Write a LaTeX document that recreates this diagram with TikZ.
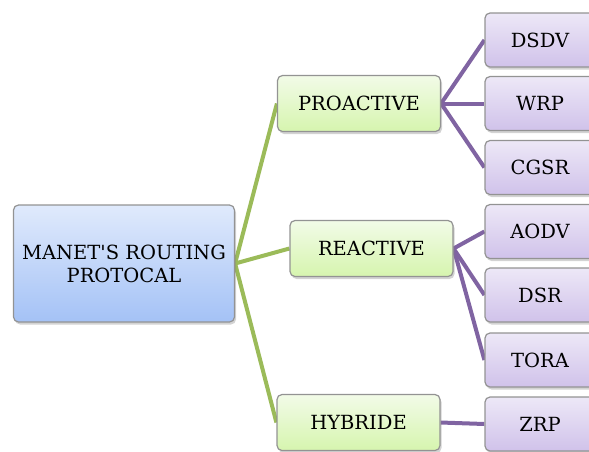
\documentclass[tikz,border=0pt]{standalone}
\usepackage{fontspec}
\setmainfont{DejaVu Serif}
\usetikzlibrary{shadows,backgrounds}

\definecolor{rootTop}{RGB}{224,234,252}
\definecolor{rootBot}{RGB}{164,194,246}
\definecolor{midTop}{RGB}{242,251,232}
\definecolor{midBot}{RGB}{214,245,174}
\definecolor{leafTop}{RGB}{237,232,247}
\definecolor{leafBot}{RGB}{208,194,234}
\definecolor{greenLine}{RGB}{155,187,89}
\definecolor{purpleLine}{RGB}{128,100,162}

\tikzset{
  box/.style={draw=gray!85, line width=1.2pt, rounded corners=5pt, inner sep=0pt,
    align=center, drop shadow={opacity=0.35, shadow xshift=1.5pt, shadow yshift=-2.5pt}},
  rootbox/.style={box, top color=rootTop, bottom color=rootBot,
    minimum width=221pt, minimum height=117pt},
  midbox/.style={box, top color=midTop, bottom color=midBot,
    minimum width=163pt, minimum height=56pt},
  leafbox/.style={box, top color=leafTop, bottom color=leafBot,
    minimum width=110pt, minimum height=54pt},
  greenlink/.style={greenLine, line width=4pt},
  purplelink/.style={purpleLine, line width=4pt}
}

\begin{document}
\begin{tikzpicture}[x=1pt, y=-1pt, every node/.style={font=\fontsize{19.5}{23}\selectfont}]
    \clip (0,0) rectangle (589,451);
    % Root
    \node[rootbox] (root) at (124,263.5) {MANET\textquotesingle S ROUTING\\PROTOCAL};
    % Protocol families
    \node[midbox] (pro) at (359,103.5) {PROACTIVE};
    \node[midbox] (rea) at (371.5,248.5) {REACTIVE};
    \node[midbox] (hyb) at (358.5,422.5) {HYBRIDE};
    % Protocols
    \node[leafbox] (dsdv) at (540,40)    {DSDV};
    \node[leafbox] (wrp)  at (540,103.5) {WRP};
    \node[leafbox] (cgsr) at (540,167.5) {CGSR};
    \node[leafbox] (aodv) at (540,231.5) {AODV};
    \node[leafbox] (dsr)  at (540,295)   {DSR};
    \node[leafbox] (tora) at (540,360)   {TORA};
    \node[leafbox] (zrp)  at (540,424)   {ZRP};
    % Links
    \begin{scope}[on background layer]
        \draw[greenlink] (root.east) -- (pro.west);
        \draw[greenlink] (root.east) -- (rea.west);
        \draw[greenlink] (root.east) -- (hyb.west);
        \foreach \leaf in {dsdv,wrp,cgsr}
            \draw[purplelink] (pro.east) -- (\leaf.west);
        \foreach \leaf in {aodv,dsr,tora}
            \draw[purplelink] (rea.east) -- (\leaf.west);
        \draw[purplelink] (hyb.east) -- (zrp.west);
    \end{scope}
\end{tikzpicture}
\end{document}
